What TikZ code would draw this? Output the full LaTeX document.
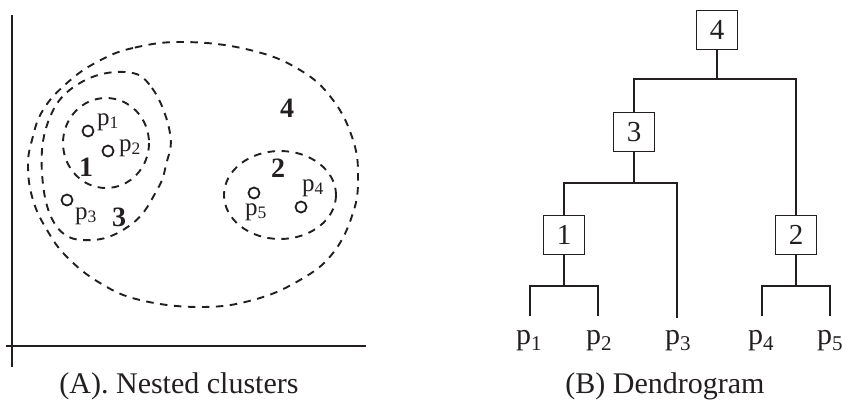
\documentclass[tikz,border=0pt]{standalone}
\usepackage{fontspec}
\setmainfont{Liberation Serif}
\definecolor{ink}{RGB}{35,31,32}
\begin{document}
\begin{tikzpicture}[x=1pt,y=-1pt, color=ink,
  axisline/.style={line width=2.2pt},
  clus/.style={dash pattern=on 7.5pt off 6.5pt, line width=1.9pt},
  ptcirc/.style={circle, draw, line width=1.8pt, minimum size=11pt, inner sep=0pt},
  plab/.style={inner sep=0pt, font=\fontsize{25}{28}\selectfont},
  cnum/.style={inner sep=0pt, font=\fontsize{28}{30}\selectfont\bfseries},
  captext/.style={inner sep=0pt, font=\fontsize{30}{34}\selectfont},
  dbox/.style={draw, line width=1.9pt, minimum width=41pt, minimum height=39pt, inner sep=0pt, font=\fontsize{29}{32}\selectfont},
  dline/.style={line width=2.2pt},
  leaf/.style={inner sep=0pt, font=\fontsize{30}{32}\selectfont}]
\useasboundingbox (0,0) rectangle (842,399);
% axes
\coordinate (ytop) at (12,15);
\coordinate (ybot) at (12,367);
\coordinate (xl) at (6,346);
\coordinate (xr) at (366,346);
\draw[axisline] (ytop) -- (ybot);
\draw[axisline] (xl) -- (xr);
% cluster 4
\draw[clus] plot[smooth cycle, tension=0.7] coordinates {(185,42) (133,48) (97,62) (67,83) (43,110) (32,140) (28,167) (33,200) (47,230) (67,257) (100,283) (140,300) (200,307) (253,300) (300,280) (333,253) (353,213) (358,177) (353,140) (333,100) (300,70) (250,50)};
% cluster 3
\draw[clus] plot[smooth cycle, tension=0.7] coordinates {(125,72) (152,88) (170,133) (166,165) (157,190) (133,223) (93,240) (57,227) (42,173) (50,117) (80,83)};
% cluster 1
\draw[clus] (106,143) ellipse [x radius=43, y radius=45];
% cluster 2
\draw[clus] (280,195) ellipse [x radius=56, y radius=44];
% points
\node[ptcirc] (p1) at (88,131) {};
\node[ptcirc] (p2) at (108,151) {};
\node[ptcirc] (p3) at (67,200) {};
\node[ptcirc] (p5) at (254,193) {};
\node[ptcirc] (p4) at (301,207) {};
\node[plab] (lp1) at (108,122) {p\textsubscript{1}};
\node[plab] (lp2) at (130,148) {p\textsubscript{2}};
\node[plab] (lp3) at (86,216) {p\textsubscript{3}};
\node[plab] (lp5) at (256,212) {p\textsubscript{5}};
\node[plab] (lp4) at (313,188) {p\textsubscript{4}};
\node[cnum] (c1) at (86,167) {1};
\node[cnum] (c3) at (119,217) {3};
\node[cnum] (c2) at (278,168) {2};
\node[cnum] (c4) at (287,108) {4};
\node[captext] (capA) at (179,386) {(A). Nested clusters};
% dendrogram
\node[dbox] (b4) at (717,30) {4};
\node[dbox] (b3) at (634,132) {3};
\node[dbox] (b2) at (796,235) {2};
\node[dbox] (b1) at (564,235) {1};
\coordinate (h4) at (717,79);
\coordinate (h3) at (634,183);
\coordinate (h1) at (564,286);
\coordinate (h2) at (796,286);
\coordinate (t1) at (530,316);
\coordinate (t2) at (598,316);
\coordinate (t3) at (677,318);
\coordinate (t4) at (762,316);
\coordinate (t5) at (830,316);
\draw[dline] (b4.south) -- (h4);
\draw[dline] (b3.north) |- (h4) -| (b2.north);
\draw[dline] (b3.south) -- (h3);
\draw[dline] (b1.north) |- (h3) -| (t3);
\draw[dline] (b1.south) -- (h1);
\draw[dline] (t1) |- (h1) -| (t2);
\draw[dline] (b2.south) -- (h2);
\draw[dline] (t4) |- (h2) -| (t5);
\node[leaf] (q1) at (529,341) {p\textsubscript{1}};
\node[leaf] (q2) at (599,341) {p\textsubscript{2}};
\node[leaf] (q3) at (678,341) {p\textsubscript{3}};
\node[leaf] (q4) at (761,341) {p\textsubscript{4}};
\node[leaf] (q5) at (830,341) {p\textsubscript{5}};
\node[captext] (capB) at (665,386) {(B) Dendrogram};
\end{tikzpicture}
\end{document}
